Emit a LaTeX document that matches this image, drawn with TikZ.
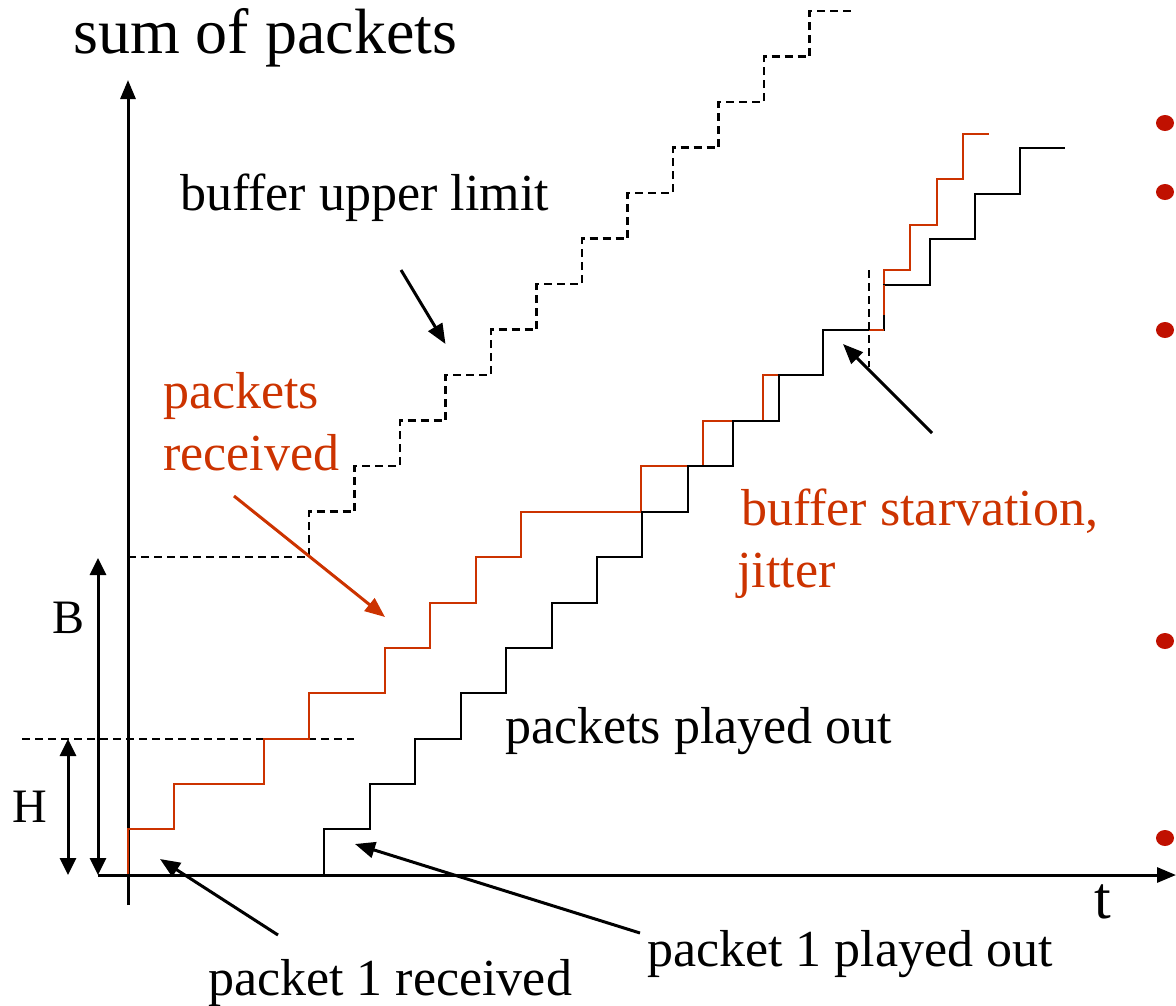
\documentclass[tikz,border=0pt]{standalone}
\usepackage{fontspec}
\setmainfont{Liberation Serif}
\usetikzlibrary{arrows.meta}
\definecolor{rcv}{RGB}{204,51,0}
\definecolor{dotred}{RGB}{192,16,0}
\begin{document}
\begin{tikzpicture}[x=1pt,y=-1pt,
  axis/.style={line width=3pt},
  stair/.style={line width=2pt, line join=miter},
  dsh/.style={line width=2.2pt, dash pattern=on 8pt off 5pt},
  ptr/.style={line width=3pt, -{Triangle[length=20pt,width=16pt]}},
  dbl/.style={line width=3pt, {Triangle[length=17pt,width=16pt]}-{Triangle[length=17pt,width=16pt]}},
  lbl/.style={inner sep=0pt, anchor=base west, font=\fontsize{52}{62}\selectfont},
  big/.style={inner sep=0pt, anchor=base west, font=\fontsize{64}{74}\selectfont},
  mid/.style={inner sep=0pt, anchor=base west, font=\fontsize{48}{56}\selectfont},
]
\useasboundingbox (0,0) rectangle (1176,1005);

% axes
\coordinate (yb) at (128,905);
\coordinate (yt) at (128,80);
\coordinate (xl) at (98,875);
\coordinate (xr) at (1176,875);
\draw[axis,-{Triangle[length=19pt,width=15pt]}] (yb) -- (yt);
\draw[axis,-{Triangle[length=19pt,width=15pt]}] (xl) -- (xr);

% buffer upper limit (dashed staircase)
\draw[dsh] (128,557) -- (309,557) |- (354.5,511.5) |- (400,466) |- (445.5,420.5)
  |- (491,375) |- (536.5,329.5) |- (582,284) |- (627.5,238.5) |- (673,193)
  |- (718.5,147.5) |- (764,102) |- (809.5,56.5) |- (855,11);
% H line
\draw[dsh] (22,739) -- (354,739);

% packets received (red)
\draw[stair,rcv] (128,874) |- (173.5,829) |- (264,784) |- (309,738.5) |- (385,693)
  |- (430,648) |- (476,602.5) |- (521,557) |- (641,511.5) |- (703,466)
  |- (763,420.5) |- (823,375) |- (884,330) |- (910,270) |- (937,224.5)
  |- (963,179) |- (989,133.5);
% packets played out (black)
\draw[stair] (324,874) |- (369.5,829) |- (415,784) |- (460.5,738.5) |- (506,693)
  |- (551.5,648) |- (597,602.5) |- (642,557) |- (687.5,511.5) |- (733,466)
  |- (778.5,420.5) |- (823,375) |- (884,330) |- (929.5,284.5) |- (975,239)
  |- (1020,193.5) |- (1065,148);
\draw[stair,rcv] (869,330) -- (884,330);
\draw[stair,rcv] (884,315) -- (884,285);
% starvation marker
\draw[dsh] (869,270) -- (869,367);

% B and H double arrows
\coordinate (Bb) at (98,875);
\coordinate (Bt) at (98,558);
\coordinate (Hb) at (68,875);
\coordinate (Ht) at (68,739);
\draw[dbl] (Bb) -- (Bt);
\draw[dbl] (Hb) -- (Ht);

% labels
\node[big] (title) at (73,53) {sum of packets};
\node[lbl] (bul) at (180,210) {buffer upper limit};
\node[lbl,text=rcv] (pr1) at (163,408) {packets};
\node[lbl,text=rcv] (pr2) at (163,470) {received};
\node[lbl,text=rcv] (bs1) at (741,525) {buffer starvation,};
\node[lbl,text=rcv] (bs2) at (737,587) {jitter};
\node[lbl] (ppo) at (505,743) {packets played out};
\node[lbl] (p1p) at (647,966) {packet 1 played out};
\node[lbl] (p1r) at (208,995) {packet 1 received};
\node[mid] (lB) at (52,633) {B};
\node[mid] (lH) at (12,822) {H};
\node[inner sep=0pt, anchor=base west, font=\fontsize{60}{70}\selectfont] (lt) at (1094,918) {t};

% pointer arrows
\coordinate (a1s) at (278,935); \coordinate (a1e) at (160,859);
\coordinate (a2s) at (640,933); \coordinate (a2e) at (355,844);
\coordinate (a3s) at (932,433); \coordinate (a3e) at (843,344);
\coordinate (a4s) at (401,270); \coordinate (a4e) at (445.5,344);
\coordinate (a5s) at (234,496); \coordinate (a5e) at (385,617);
\draw[ptr] (a1s) -- (a1e);
\draw[ptr] (a2s) -- (a2e);
\draw[ptr] (a3s) -- (a3e);
\draw[ptr] (a4s) -- (a4e);
\draw[ptr,rcv] (a5s) -- (a5e);

% bullets
\fill[dotred] (1165,123) ellipse [x radius=9pt, y radius=8pt];
\fill[dotred] (1165,192) ellipse [x radius=9pt, y radius=8pt];
\fill[dotred] (1165,330) ellipse [x radius=9pt, y radius=8pt];
\fill[dotred] (1165,641) ellipse [x radius=9pt, y radius=8pt];
\fill[dotred] (1165,838) ellipse [x radius=9pt, y radius=8pt];
\end{tikzpicture}
\end{document}
